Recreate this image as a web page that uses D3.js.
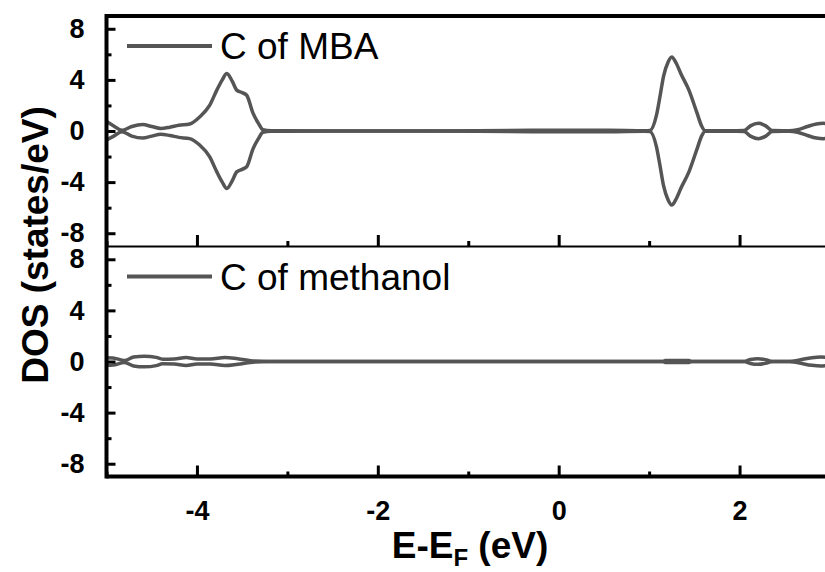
<!DOCTYPE html>
<html>
<head>
<meta charset="utf-8">
<script src="https://cdn.jsdelivr.net/npm/d3@7"></script>
<style>
  body { margin: 0; background: #fff; }
  svg { display: block; font-family: "Liberation Sans", Arial, sans-serif; }
</style>
</head>
<body>
<div id="DosCanvas"></div>
<script>
// energies (eV) and DOS values
const mbaE   = [-5.00, -4.92, -4.83, -4.72, -4.60, -4.50, -4.40, -4.30, -4.20, -4.08, -3.97, -3.86, -3.78, -3.72, -3.67, -3.61, -3.56, -3.50, -3.45, -3.38, -3.32, -3.27, -3.18, -2.50, -1.50, -0.30, 0.55, 0.95, 1.01, 1.08, 1.12, 1.16, 1.21, 1.25, 1.30, 1.35, 1.44, 1.53, 1.58, 1.62, 1.80, 2.05, 2.12, 2.21, 2.29, 2.36, 2.55, 2.64, 2.75, 2.85, 2.93, 3.00];
const mbaUp  = [0.75, 0.40, 0.05, 0.35, 0.50, 0.35, 0.20, 0.30, 0.45, 0.55, 1.10, 2.00, 3.20, 4.00, 4.50, 3.90, 3.20, 3.00, 2.80, 1.40, 0.60, 0.10, 0.02, 0.00, 0.00, 0.05, 0.05, 0.02, 0.05, 1.20, 2.70, 4.30, 5.40, 5.80, 5.30, 4.50, 3.20, 1.40, 0.40, 0.02, 0.02, 0.03, 0.40, 0.60, 0.40, 0.03, 0.02, 0.10, 0.35, 0.55, 0.60, 0.55];
const mbaDn  = [-0.70, -0.40, -0.05, -0.40, -0.55, -0.40, -0.25, -0.35, -0.50, -0.60, -1.10, -2.00, -3.20, -4.00, -4.50, -3.90, -3.20, -3.00, -2.80, -1.40, -0.60, -0.10, -0.02, 0.00, 0.00, -0.05, -0.05, -0.02, -0.05, -1.20, -2.70, -4.30, -5.40, -5.80, -5.30, -4.50, -3.20, -1.40, -0.40, -0.02, -0.02, -0.03, -0.40, -0.60, -0.40, -0.03, -0.02, -0.10, -0.35, -0.55, -0.60, -0.55];

const methE  = [-5.00, -4.93, -4.80, -4.70, -4.58, -4.45, -4.38, -4.25, -4.12, -4.00, -3.85, -3.69, -3.55, -3.36, -3.20, 1.15, 1.18, 1.44, 1.47, 2.05, 2.12, 2.20, 2.30, 2.36, 2.55, 2.65, 2.80, 2.90, 3.00];
const methUp = [0.30, 0.28, 0.08, 0.35, 0.42, 0.32, 0.18, 0.20, 0.32, 0.20, 0.20, 0.32, 0.22, 0.03, 0.00, 0.00, 0.08, 0.08, 0.00, 0.00, 0.15, 0.22, 0.12, 0.00, 0.00, 0.10, 0.30, 0.35, 0.30];
const methDn = [-0.30, -0.28, -0.08, -0.35, -0.42, -0.32, -0.18, -0.20, -0.32, -0.20, -0.20, -0.32, -0.22, -0.03, 0.00, 0.00, -0.08, -0.08, 0.00, 0.00, -0.15, -0.22, -0.12, 0.00, 0.00, -0.10, -0.30, -0.35, -0.30];

const panelLabels = ['C of MBA', 'C of methanol'];
const xMajor = [-4, -2, 0, 2];
const xMinor = [-5, -3, -1, 1, 3];
const yMajor = [-8, -4, 0, 4, 8];
const yMinor = [-6, -2, 2, 6];

class DosView {
    constructor(container){
        this.width = 825;
        this.height = 572;
        this.lineColor = '#555555';
        this.left = 106.5;
        this.right = 830;
        this.panelTop = [16, 246.5];
        this.panelH = 230;

        this.svg = d3.select(container).append('svg')
            .attr('width', this.width)
            .attr('height', this.height);

        this.x = d3.scaleLinear().domain([-5, 3]).range([this.left, this.right]);
    }

    draw(){
        this.draw_panel(0, mbaE, mbaUp, mbaDn, panelLabels[0]);
        this.draw_panel(1, methE, methUp, methDn, panelLabels[1]);
        this.draw_frame();
        this.draw_titles();
    }

    draw_panel(i, energies, up, dn, label){
        let top = this.panelTop[i];
        let y = d3.scaleLinear().domain([-9, 9]).range([top + this.panelH, top]);
        let g = this.svg.append('g');

        let line = d3.line()
            .x(d=>this.x(d[0]))
            .y(d=>y(d[1]))
            .curve(d3.curveMonotoneX);

        [up, dn].forEach(vals=>{
            g.append('path')
                .datum(energies.map((e, k)=>[e, vals[k]]))
                .attr('d', line)
                .attr('fill', 'none')
                .attr('stroke', this.lineColor)
                .attr('stroke-width', 3.5)
                .attr('stroke-linejoin', 'round');
        });

        // plain hyphen for negatives, like the original
        let fmt = d=>String(d);

        // y axis, ticks pointing inward
        let ya = g.append('g').attr('transform', 'translate(' + this.left + ',0)')
            .call(d3.axisLeft(y).tickValues(yMajor).tickSizeInner(-9).tickSizeOuter(0).tickPadding(22).tickFormat(fmt));
        let ym = g.append('g').attr('transform', 'translate(' + this.left + ',0)')
            .call(d3.axisLeft(y).tickValues(yMinor).tickSizeInner(-5).tickSizeOuter(0).tickFormat(''));

        // x ticks at the bottom of each panel
        let bottom = top + this.panelH;
        let xa = g.append('g').attr('transform', 'translate(0,' + bottom + ')')
            .call(d3.axisBottom(this.x).tickValues(xMajor).tickSizeInner(-11).tickSizeOuter(0).tickPadding(24)
                .tickFormat(i == 1 ? fmt : ''));
        let xm = g.append('g').attr('transform', 'translate(0,' + bottom + ')')
            .call(d3.axisBottom(this.x).tickValues(xMinor).tickSizeInner(-5).tickSizeOuter(0).tickFormat(''));

        [ya, ym, xa, xm].forEach(a=>{
            a.select('.domain').remove();
            a.selectAll('.tick line').attr('stroke', '#000').attr('stroke-width', 3);
            a.selectAll('.tick text')
                .attr('fill', '#000')
                .style('font-size', '27px')
                .style('font-weight', 'bold')
                .style('font-family', '"Liberation Sans", Arial, sans-serif');
        });

        // legend
        let ly = top + 30;
        g.append('line')
            .attr('x1', 127).attr('x2', 212)
            .attr('y1', ly).attr('y2', ly)
            .attr('stroke', this.lineColor)
            .attr('stroke-width', 4);
        g.append('text')
            .text(label)
            .attr('x', 220)
            .attr('y', ly + 13)
            .style('font-size', '37px')
            .attr('fill', '#000');
    }

    draw_frame(){
        let lines = [
            [this.left, this.panelTop[0], this.width + 10, this.panelTop[0], 4],
            [this.left, this.panelTop[1], this.width + 10, this.panelTop[1], 2],
            [this.left, this.panelTop[1] + this.panelH, this.width + 10, this.panelTop[1] + this.panelH, 4],
            [this.left, this.panelTop[0] - 2, this.left, this.panelTop[1] + this.panelH + 2, 4]
        ];
        this.svg.selectAll('.frame').data(lines).enter().append('line')
            .attr('x1', d=>d[0]).attr('y1', d=>d[1])
            .attr('x2', d=>d[2]).attr('y2', d=>d[3])
            .attr('stroke', '#000')
            .attr('stroke-width', d=>d[4]);
    }

    draw_titles(){
        this.svg.append('text')
            .text('DOS (states/eV)')
            .attr('transform', 'translate(48,245) rotate(-90)')
            .attr('text-anchor', 'middle')
            .style('font-size', '37px')
            .style('font-weight', 'bold');

        let t = this.svg.append('text')
            .attr('x', 470)
            .attr('y', 558)
            .attr('text-anchor', 'middle')
            .style('font-size', '37px')
            .style('font-weight', 'bold');
        t.append('tspan').text('E-E');
        t.append('tspan').text('F').attr('dy', 8).style('font-size', '24px');
        t.append('tspan').text(' (eV)').attr('dy', -8);
    }
}

let view = new DosView('#DosCanvas');
view.draw();
</script>
</body>
</html>
